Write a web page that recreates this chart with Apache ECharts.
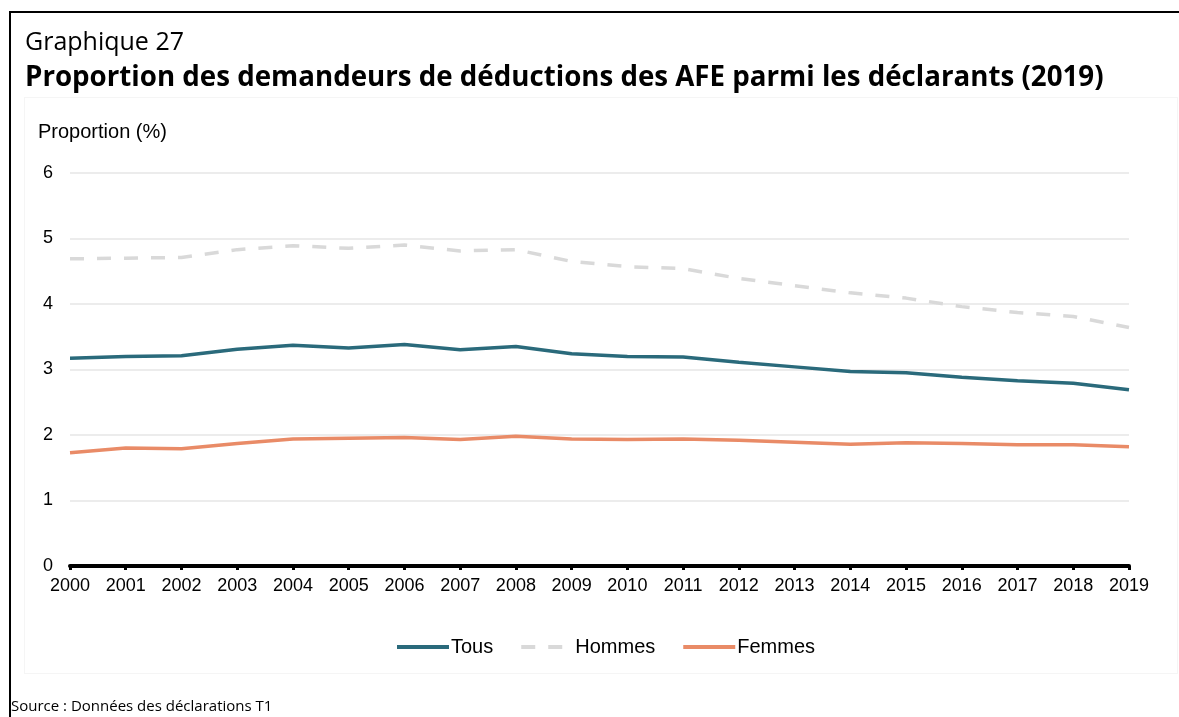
<!DOCTYPE html>
<html>
<head>
<meta charset="utf-8">
<script src="https://cdn.jsdelivr.net/npm/echarts@6/dist/echarts.min.js"></script>
<style>
  html, body { margin: 0; padding: 0; background: #fff; }
  .frame {
    position: absolute;
    left: 9px;
    top: 11px;
    width: 1200px;
    height: 800px;
    border-top: 2px solid #000;
    border-left: 2px solid #000;
  }
  .plotbox {
    position: absolute;
    left: 24px;
    top: 97px;
    width: 1152px;
    height: 575px;
    border: 1px solid #f5f5f5;
  }
  #chart { position: absolute; left: 0; top: 0; width: 1179px; height: 717px; }
</style>
</head>
<body>
<div class="frame"></div>
<div class="plotbox"></div>
<div id="chart"></div>
<script>
// années
const years = ['2000', '2001', '2002', '2003', '2004', '2005', '2006', '2007', '2008', '2009',
  '2010', '2011', '2012', '2013', '2014', '2015', '2016', '2017', '2018', '2019']

// proportions (%)
const tous = [3.17, 3.20, 3.21, 3.31, 3.37, 3.33, 3.38, 3.30, 3.35, 3.24,
  3.20, 3.19, 3.11, 3.04, 2.97, 2.95, 2.88, 2.83, 2.79, 2.69]
const hommes = [4.69, 4.70, 4.71, 4.83, 4.89, 4.85, 4.90, 4.81, 4.83, 4.65,
  4.57, 4.54, 4.39, 4.28, 4.17, 4.09, 3.96, 3.87, 3.81, 3.64]
const femmes = [1.73, 1.80, 1.79, 1.87, 1.94, 1.95, 1.96, 1.93, 1.98, 1.94,
  1.93, 1.94, 1.92, 1.89, 1.86, 1.88, 1.87, 1.85, 1.85, 1.82]

const chart = echarts.init(document.getElementById('chart'), null, { renderer: 'canvas' })

const sans = 'Liberation Sans, Arial, sans-serif'

chart.setOption({
  animation: false,
  title: [
    {
      text: 'Graphique 27',
      left: 20, top: 25,
      textStyle: { fontFamily: 'Open Sans', fontWeight: 'normal', fontSize: 25, color: '#000' }
    },
    {
      text: 'Proportion des demandeurs de déductions des AFE parmi les déclarants (2019)',
      left: 20, top: 59,
      textStyle: { fontFamily: 'Open Sans', fontWeight: 'bold', fontSize: 27.7, color: '#000' }
    },
    {
      text: 'Proportion (%)',
      left: 33, top: 117,
      textStyle: { fontFamily: sans, fontWeight: 'normal', fontSize: 20, color: '#000' }
    },
    {
      text: 'Source : Données des déclarations T1',
      left: 6, top: 694,
      textStyle: { fontFamily: 'Open Sans', fontWeight: 'normal', fontSize: 15, color: '#000' }
    }
  ],
  grid: {
    left: 70,
    right: 50,
    top: 173,
    bottom: 151
  },
  legend: {
    left: 390,
    top: 632,
    itemWidth: 52,
    itemHeight: 4,
    itemGap: 26,
    itemStyle: { opacity: 0 },
    lineStyle: { width: 4 },
    textStyle: { fontFamily: sans, fontSize: 20, color: '#000', padding: [0, 0, 0, -3] },
    data: ['Tous', 'Hommes', 'Femmes']
  },
  xAxis: {
    type: 'category',
    boundaryGap: false,
    data: years,
    axisLine: { lineStyle: { color: '#000', width: 4 } },
    axisTick: { show: true, length: 4, lineStyle: { color: '#000', width: 3 } },
    axisLabel: { fontFamily: sans, fontSize: 18, color: '#000', margin: 11, interval: 0 }
  },
  yAxis: {
    type: 'value',
    min: 0,
    max: 6,
    interval: 1,
    axisLine: { show: false },
    axisTick: { show: false },
    axisLabel: { fontFamily: sans, fontSize: 18, color: '#000', margin: 17 },
    splitLine: { lineStyle: { color: '#e6e6e6', width: 1.5 } }
  },
  series: [
    {
      name: 'Tous',
      type: 'line',
      data: tous,
      symbol: 'none',
      color: '#2a6a7b',
      lineStyle: { width: 3.5, color: '#2a6a7b' }
    },
    {
      name: 'Hommes',
      type: 'line',
      data: hommes,
      symbol: 'none',
      color: '#d9d9d9',
      lineStyle: { width: 3.5, color: '#d9d9d9', type: [14, 13] }
    },
    {
      name: 'Femmes',
      type: 'line',
      data: femmes,
      symbol: 'none',
      color: '#e98b67',
      lineStyle: { width: 3.5, color: '#e98b67' }
    }
  ]
})
</script>
</body>
</html>
